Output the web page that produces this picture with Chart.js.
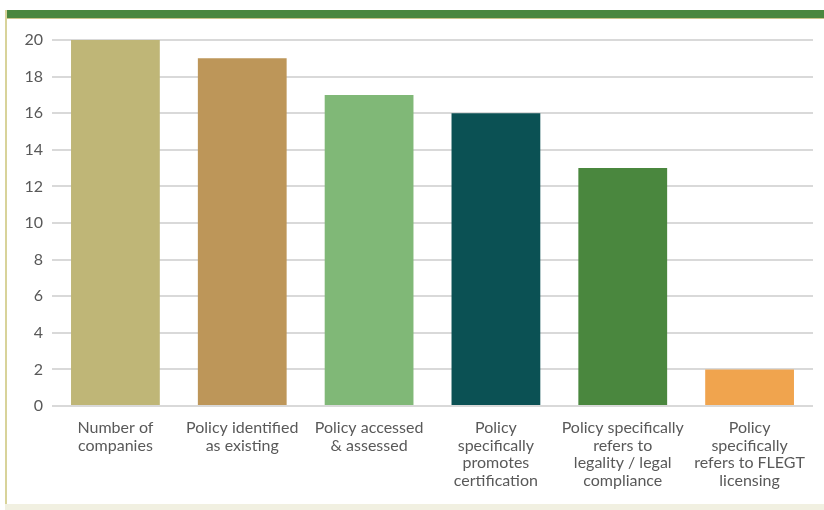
<!DOCTYPE html>
<html>
<head>
<meta charset="utf-8">
<script src="https://cdn.jsdelivr.net/npm/chart.js@4"></script>
<style>
  html, body { margin: 0; padding: 0; background: #fff; }
  #frame { position: relative; width: 824px; height: 510px; overflow: hidden; }
  #topBar { position: absolute; left: 5px; top: 10px; width: 819px; height: 8px; background: #4a873e; border-bottom: 1px solid #c9c48a; }
  #leftEdge { position: absolute; left: 5px; top: 10px; width: 2px; height: 500px; background: #d8d39a; }
  #bottomBand { position: absolute; left: 5px; top: 504px; width: 819px; height: 6px; background: #f1f0e1; }
  #wrap { position: absolute; left: 0; top: 0; width: 824px; height: 510px; }
</style>
</head>
<body>
<div id="frame">
  <div id="topBar"></div>
  <div id="leftEdge"></div>
  <div id="bottomBand"></div>
  <div id="wrap"><canvas id="policyChart"></canvas></div>
</div>
<script>
// categories and values
const categories = [
    ['Number of', 'companies'],
    ['Policy identified', 'as existing'],
    ['Policy accessed', '& assessed'],
    ['Policy', 'specifically', 'promotes', 'certification'],
    ['Policy specifically', 'refers to', 'legality / legal', 'compliance'],
    ['Policy', 'specifically', 'refers to FLEGT', 'licensing']
];
const companyCounts = [20, 19, 17, 16, 13, 2];
const barColours = ['#bfb677', '#bd9659', '#80b877', '#0b5154', '#4a873e', '#f0a44e'];
const yTicks = [0, 2, 4, 6, 8, 10, 12, 14, 16, 18, 20];

const textFont = { family: 'Lato, "Open Sans", sans-serif', size: 16, lineHeight: 1.1 };

const ctx = document.getElementById('policyChart').getContext('2d');
new Chart(ctx, {
    type: 'bar',
    data: {
        labels: categories,
        datasets: [{
            data: companyCounts,
            backgroundColor: barColours,
            borderWidth: 0,
            categoryPercentage: 1,
            barPercentage: 0.7
        }]
    },
    options: {
        responsive: true,
        maintainAspectRatio: false,
        animation: false,
        layout: { padding: { top: 40, right: 11, bottom: 0, left: 0 } },
        plugins: { legend: { display: false }, tooltip: { enabled: false } },
        scales: {
            x: {
                grid: { display: false },
                border: { display: false },
                ticks: { color: '#595959', font: textFont, padding: 5, maxRotation: 0, autoSkip: false },
                afterFit: (scale) => { scale.height = 104; }
            },
            y: {
                min: 0,
                max: 20,
                afterBuildTicks: (scale) => { scale.ticks = yTicks.map(v => ({ value: v })); },
                grid: { color: '#d9d9d9', lineWidth: 2, drawTicks: false },
                border: { display: false },
                ticks: { color: '#595959', font: textFont, padding: 9 },
                afterFit: (scale) => { scale.width = 52; }
            }
        }
    }
});
</script>
</body>
</html>
